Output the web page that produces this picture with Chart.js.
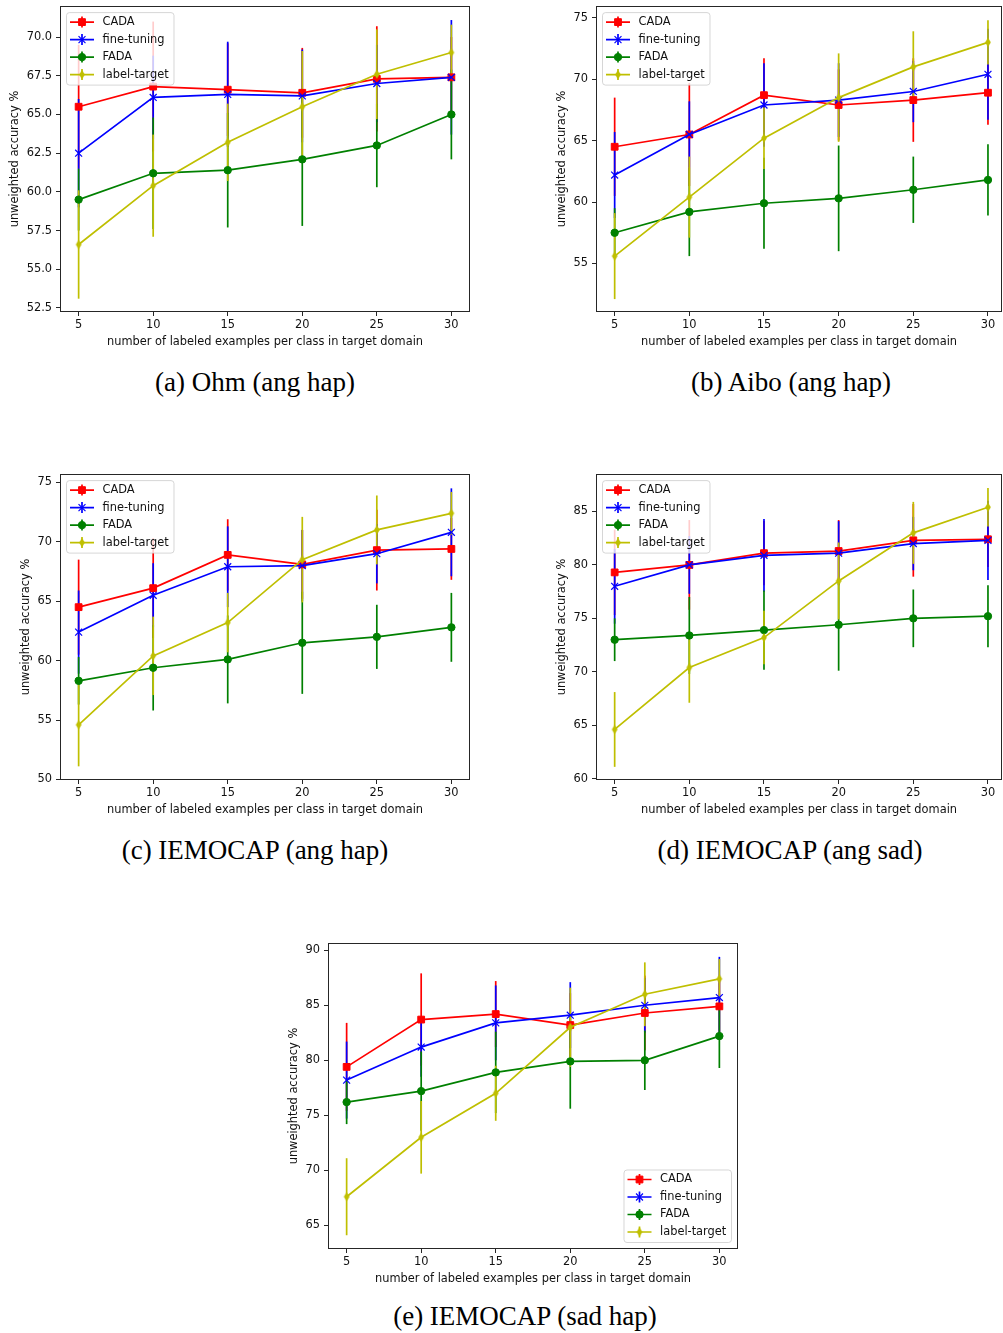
<!DOCTYPE html>
<html>
<head>
<meta charset="utf-8">
<title>unweighted accuracy vs labeled examples</title>
<script src="https://cdn.jsdelivr.net/npm/chart.js@4.4.1/dist/chart.umd.min.js"></script>
<style>
  html, body { margin: 0; padding: 0; background: #fff; overflow: hidden; }
  body { position: relative; width: 1003px; height: 1333px; }
  canvas { position: absolute; }
  .caption {
    position: absolute;
    transform: translate(-50%, -50%);
    white-space: nowrap;
    font: 27px 'Liberation Serif', 'DejaVu Serif', serif;
    line-height: 1;
    color: #000;
  }
</style>
</head>
<body>
<canvas id="ohm" width="480" height="360" style="left:0px;top:0px"></canvas>
<canvas id="aibo" width="476" height="360" style="left:536px;top:0px"></canvas>
<canvas id="iemoAngHap" width="480" height="360" style="left:0px;top:468px"></canvas>
<canvas id="iemoAngSad" width="476" height="360" style="left:536px;top:468px"></canvas>
<canvas id="iemoSadHap" width="480" height="360" style="left:268px;top:937px"></canvas>

<div class="caption" style="left:255px;top:382px">(a) Ohm (ang hap)</div>
<div class="caption" style="left:791px;top:382px">(b) Aibo (ang hap)</div>
<div class="caption" style="left:255px;top:850px">(c) IEMOCAP (ang hap)</div>
<div class="caption" style="left:790px;top:850px">(d) IEMOCAP (ang sad)</div>
<div class="caption" style="left:525px;top:1316px">(e) IEMOCAP (sad hap)</div>

<script>
// number of labeled examples per class
const shots = [5, 10, 15, 20, 25, 30];
const methods = ['CADA', 'fine-tuning', 'FADA', 'label-target'];

// mean unweighted accuracy (%)
const ohmCada = [65.5, 66.8, 66.6, 66.4, 67.3, 67.4];
const ohmFine = [62.5, 66.1, 66.3, 66.2, 67.0, 67.4];
const ohmFada = [59.5, 61.2, 61.4, 62.1, 63.0, 65.0];
const ohmLabel = [56.6, 60.4, 63.2, 65.5, 67.6, 69.0];

const aiboCada = [64.5, 65.5, 68.7, 67.9, 68.3, 68.9];
const aiboFine = [62.2, 65.5, 67.9, 68.3, 69.0, 70.4];
const aiboFada = [57.5, 59.2, 59.9, 60.3, 61.0, 61.8];
const aiboLabel = [55.6, 60.4, 65.2, 68.5, 71.0, 73.0];

const angHapCada = [64.5, 66.1, 68.9, 68.1, 69.3, 69.4];
const angHapFine = [62.4, 65.5, 67.9, 68.0, 69.0, 70.8];
const angHapFada = [58.3, 59.4, 60.1, 61.5, 62.0, 62.8];
const angHapLabel = [54.6, 60.4, 63.2, 68.5, 71.0, 72.4];

const angSadCada = [79.3, 80.0, 81.1, 81.3, 82.3, 82.4];
const angSadFine = [78.0, 80.0, 80.9, 81.1, 82.0, 82.3];
const angSadFada = [73.0, 73.4, 73.9, 74.4, 75.0, 75.2];
const angSadLabel = [64.6, 70.4, 73.2, 78.5, 83.0, 85.4];

const sadHapCada = [79.4, 83.7, 84.2, 83.2, 84.3, 84.9];
const sadHapFine = [78.2, 81.2, 83.4, 84.1, 85.0, 85.7];
const sadHapFada = [76.2, 77.2, 78.9, 79.9, 80.0, 82.2];
const sadHapLabel = [67.6, 73.0, 77.0, 83.0, 86.0, 87.4];

// std over runs, drawn as error bars
const errCada = [4.0, 4.2, 3.0, 2.9, 3.4, 2.6];
const errFine = [3.5, 2.7, 3.4, 3.0, 2.5, 3.7];
const errFada = [2.0, 3.6, 3.7, 4.3, 2.7, 2.9];
const errLabel = [3.5, 3.3, 2.5, 3.6, 2.9, 1.8];

// y axis ticks and limits
const ticksOhm = [52.5, 55, 57.5, 60, 62.5, 65, 67.5, 70];
const ticksAibo = [55, 60, 65, 70, 75];
const ticksAngHap = [50, 55, 60, 65, 70, 75];
const ticksAngSad = [60, 65, 70, 75, 80, 85];
const ticksSadHap = [65, 70, 75, 80, 85, 90];
const limitsOhm = [52.24, 72.0];
const limitsAibo = [51.05, 75.95];
const limitsAngHap = [49.95, 75.7];
const limitsAngSad = [59.87, 88.5];
const limitsSadHap = [62.85, 90.65];

const INK = '#111';
Chart.defaults.font.family = "'DejaVu Sans', sans-serif";
Chart.defaults.font.size = 11.4;
Chart.defaults.color = INK;

// matplotlib-like thin diamond marker
function thinDiamond(color) {
    const c = document.createElement('canvas');
    c.width = 8;
    c.height = 10;
    const g = c.getContext('2d');
    g.fillStyle = color;
    g.beginPath();
    g.moveTo(4, 0.6);
    g.lineTo(6.9, 5);
    g.lineTo(4, 9.4);
    g.lineTo(1.1, 5);
    g.closePath();
    g.fill();
    return c;
}

const styles = [
    { color: '#ff0000', pointStyle: 'rect', radius: 4.8, border: 1, err: errCada },
    { color: '#0000ff', pointStyle: 'crossRot', radius: 4.9, border: 1.2, err: errFine },
    { color: '#008000', pointStyle: 'circle', radius: 3.7, border: 1, err: errFada },
    { color: '#bfbf00', pointStyle: thinDiamond('#bfbf00'), radius: 4, border: 0, err: errLabel }
];
const LINE_W = 1.7;

// vertical error bars, under every line
const errorBars = {
    id: 'errorBars',
    beforeDatasetsDraw(chart) {
        const { ctx, chartArea, scales: { x, y } } = chart;
        ctx.save();
        ctx.beginPath();
        ctx.rect(chartArea.left, chartArea.top, chartArea.width, chartArea.height);
        ctx.clip();
        chart.data.datasets.forEach(ds => {
            ctx.strokeStyle = ds.borderColor;
            ctx.lineWidth = LINE_W;
            ds.data.forEach((p, j) => {
                const px = x.getPixelForValue(p.x);
                ctx.beginPath();
                ctx.moveTo(px, y.getPixelForValue(p.y - ds.errors[j]));
                ctx.lineTo(px, y.getPixelForValue(p.y + ds.errors[j]));
                ctx.stroke();
            });
        });
        ctx.restore();
    }
};

// box around the plot area
const frame = {
    id: 'frame',
    afterDatasetsDraw(chart) {
        const { ctx, chartArea: a } = chart;
        ctx.save();
        ctx.strokeStyle = '#262626';
        ctx.lineWidth = 1;
        const l = Math.round(a.left) + 0.5, t = Math.round(a.top) + 0.5;
        const r = Math.round(a.right) - 0.5, b = Math.round(a.bottom) - 0.5;
        ctx.strokeRect(l, t, r - l, b - t);
        ctx.restore();
    }
};

// legend drawn inside the plot area
const innerLegend = {
    id: 'innerLegend',
    afterDraw(chart, args, opts) {
        const { ctx, chartArea: a } = chart;
        const w = 107.5, h = 72.5, m = 6.5;
        const bx = opts.corner === 'br' ? a.right - m - w : a.left + m;
        const by = opts.corner === 'br' ? a.bottom - m - h : a.top + m;
        ctx.save();
        ctx.beginPath();
        if (ctx.roundRect) ctx.roundRect(bx, by, w, h, 3);
        else ctx.rect(bx, by, w, h);
        ctx.fillStyle = 'rgba(255,255,255,0.8)';
        ctx.fill();
        ctx.strokeStyle = 'rgba(204,204,204,0.8)';
        ctx.lineWidth = 1;
        ctx.stroke();

        chart.data.datasets.forEach((ds, i) => {
            const cy = by + 9.5 + i * 17.5;
            const hx = bx + 15.5;
            ctx.strokeStyle = ds.borderColor;
            ctx.lineWidth = LINE_W;
            ctx.beginPath();
            ctx.moveTo(bx + 3.5, cy);
            ctx.lineTo(bx + 27.5, cy);
            ctx.moveTo(hx, cy - 5.5);
            ctx.lineTo(hx, cy + 5.5);
            ctx.stroke();
            ctx.fillStyle = ds.pointBackgroundColor;
            ctx.lineWidth = ds.pointBorderWidth || 1;
            Chart.helpers.drawPoint(ctx, {
                pointStyle: ds.pointStyle,
                radius: ds.pointRadius,
                rotation: 0,
                borderWidth: ds.pointBorderWidth
            }, hx, cy);
            ctx.fillStyle = INK;
            ctx.font = "11.4px 'DejaVu Sans', sans-serif";
            ctx.textBaseline = 'middle';
            ctx.textAlign = 'left';
            ctx.fillText(ds.label, bx + 36, cy);
        });
        ctx.restore();
    }
};

function drawPanel(id, values, yTicks, limits, opts) {
    const datasets = values.map((vals, i) => {
        const s = styles[i];
        return {
            label: methods[i],
            data: shots.map((x, j) => ({ x: x, y: vals[j] })),
            errors: s.err,
            borderColor: s.color,
            backgroundColor: s.color,
            borderWidth: LINE_W,
            tension: 0,
            fill: false,
            pointStyle: s.pointStyle,
            pointRadius: s.radius,
            pointHoverRadius: s.radius,
            pointBackgroundColor: s.color,
            pointBorderColor: s.color,
            pointBorderWidth: s.border,
            order: values.length - i
        };
    });

    const tickGrid = { drawOnChartArea: false, drawTicks: true, tickLength: 4, color: '#262626', lineWidth: 1 };

    new Chart(document.getElementById(id), {
        type: 'line',
        data: { datasets: datasets },
        options: {
            responsive: false,
            animation: false,
            events: [],
            layout: { padding: { top: 6, right: 10, left: 0, bottom: 0 } },
            plugins: {
                legend: { display: false },
                tooltip: { enabled: false },
                innerLegend: { corner: opts.corner }
            },
            scales: {
                x: {
                    type: 'linear',
                    min: 3.75,
                    max: opts.xMax,
                    afterFit: s => {
                        s.height = 48;
                        s.paddingLeft = 0;
                        s.paddingRight = 0;
                    },
                    afterBuildTicks: s => { s.ticks = shots.map(v => ({ value: v })); },
                    ticks: { padding: 2, color: INK, callback: v => String(v) },
                    grid: tickGrid,
                    border: { display: false },
                    title: {
                        display: true,
                        text: 'number of labeled examples per class in target domain',
                        color: INK,
                        padding: { top: 0, bottom: 11 }
                    }
                },
                y: {
                    type: 'linear',
                    min: limits[0],
                    max: limits[1],
                    afterFit: s => {
                        s.width = 60;
                        s.paddingTop = 0;
                        s.paddingBottom = 0;
                    },
                    afterBuildTicks: s => { s.ticks = yTicks.map(v => ({ value: v })); },
                    ticks: { padding: 4, color: INK, callback: v => opts.decimals ? v.toFixed(1) : String(v) },
                    grid: tickGrid,
                    border: { display: false },
                    title: {
                        display: true,
                        text: 'unweighted accuracy %',
                        color: INK,
                        padding: { top: opts.titlePad, bottom: 0 }
                    }
                }
            }
        },
        plugins: [errorBars, frame, innerLegend]
    });
}

drawPanel('ohm', [ohmCada, ohmFine, ohmFada, ohmLabel], ticksOhm, limitsOhm,
    { xMax: 31.25, corner: 'tl', decimals: true, titlePad: 8 });
drawPanel('aibo', [aiboCada, aiboFine, aiboFada, aiboLabel], ticksAibo, limitsAibo,
    { xMax: 30.94, corner: 'tl', decimals: false, titlePad: 19 });
drawPanel('iemoAngHap', [angHapCada, angHapFine, angHapFada, angHapLabel], ticksAngHap, limitsAngHap,
    { xMax: 31.25, corner: 'tl', decimals: false, titlePad: 19 });
drawPanel('iemoAngSad', [angSadCada, angSadFine, angSadFada, angSadLabel], ticksAngSad, limitsAngSad,
    { xMax: 30.94, corner: 'tl', decimals: false, titlePad: 19 });
drawPanel('iemoSadHap', [sadHapCada, sadHapFine, sadHapFada, sadHapLabel], ticksSadHap, limitsSadHap,
    { xMax: 31.25, corner: 'br', decimals: false, titlePad: 19 });
</script>
</body>
</html>
